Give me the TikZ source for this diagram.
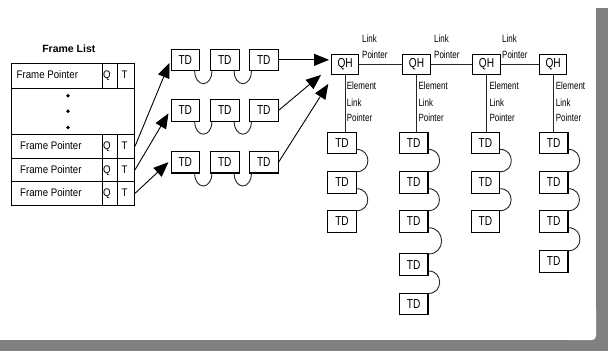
\documentclass[tikz,border=0pt]{standalone}
\usepackage{fontspec}
\setmainfont{Liberation Sans}
\newfontfamily\fpfont[FakeStretch=0.88]{Liberation Sans}
\newfontfamily\tdfont[FakeStretch=0.78]{Liberation Sans}
\newfontfamily\smfont[FakeStretch=0.76]{Liberation Sans}
\usetikzlibrary{arrows.meta}
\definecolor{framegray}{RGB}{128,128,128}
\begin{document}
\begin{tikzpicture}[x=1pt,y=1pt,
  cell/.style={draw=black, line width=1.1pt, inner sep=0pt, anchor=north west},
  tdbox/.style={draw=black, line width=1.1pt, inner sep=0pt, minimum width=28.4pt,
    minimum height=21.6pt, anchor=north west, font=\tdfont\fontsize{13}{13}\selectfont},
  qhbox/.style={tdbox, minimum width=27.3pt, minimum height=20pt},
  fptext/.style={font=\fpfont\fontsize{11}{11}\selectfont, inner sep=0pt, text height=7.9pt, text depth=0pt},
  sm/.style={font=\smfont\fontsize{10.5}{10.5}\selectfont, inner sep=0pt, anchor=west},
  arr/.style={line width=0.9pt, -{Triangle[length=15pt,width=12pt]}},
  link/.style={line width=0.9pt, draw=black!85},
  loopc/.style={line width=0.9pt, draw=black!85},
]
% background and frame
\fill[white] (0,0) rectangle (608,-351);
\useasboundingbox (0,0) rectangle (608,-351);
\fill[framegray] (596,-7.5) rectangle (608,-351);
\fill[framegray] (0,-340) rectangle (608,-351);
\fill[framegray] (589,-333) rectangle (596.5,-340.5);
\fill[white, rounded corners=4pt] (565,-305) rectangle (596,-340);

% ---------- Frame list ----------
\node[font=\bfseries\fontsize{10.5}{10.5}\selectfont, inner sep=0pt] (title) at (68.8,-49) {Frame List};

\node[cell, minimum width=90.7pt, minimum height=25pt] (fp1) at (11,-62.5) {};
\node[cell, minimum width=15.6pt, minimum height=25pt] (q1) at (101.7,-62.5) {};
\node[cell, minimum width=16.6pt, minimum height=25pt] (t1) at (117.3,-62.5) {};
\node[cell, minimum width=123pt, minimum height=46.5pt] (dots) at (11,-87.5) {};
\foreach \i/\top in {3/134,4/157.5,5/181}{
  \node[cell, minimum width=90.7pt, minimum height=23.5pt] (fp\i) at (11,-\top) {};
  \node[cell, minimum width=15.6pt, minimum height=23.5pt] (q\i) at (101.7,-\top) {};
  \node[cell, minimum width=16.6pt, minimum height=23.5pt] (t\i) at (117.3,-\top) {};
}
\node[fptext, anchor=west] (fpl1) at (16.5,-75) {Frame Pointer};
\node[fptext] (ql1) at (107,-75) {Q};
\node[fptext] (tl1) at (124.5,-75) {T};
\foreach \i/\yc in {3/145.75,4/169.25,5/192.75}{
  \node[fptext, anchor=west] (fpl\i) at (20,-\yc) {Frame Pointer};
  \node[fptext] (ql\i) at (107,-\yc) {Q};
  \node[fptext] (tl\i) at (124.5,-\yc) {T};
}
\fill (68,-95.7) circle (1.9);
\fill (68,-111.3) circle (1.9);
\fill (68,-127.5) circle (1.9);

% ---------- Horizontal TD chains ----------
\foreach \r/\top in {1/48.5,2/99,3/150.8}{
  \node[tdbox, minimum width=28.5pt] (a\r1) at (170.5,-\top) {TD};
  \node[tdbox, minimum width=28.5pt] (a\r2) at (210,-\top) {TD};
  \node[tdbox, minimum width=28.5pt] (a\r3) at (249,-\top) {TD};
  \draw[loopc] ([xshift=-5.5pt]a\r1.south east) arc[start angle=180, end angle=360, x radius=8.7, y radius=12.5];
  \draw[loopc] ([xshift=-5.5pt]a\r2.south east) arc[start angle=180, end angle=360, x radius=8.7, y radius=12.5];
}

% arrows from frame list
\draw[arr] (t3.east) -- ([xshift=-1pt,yshift=-3pt]a11.west);
\draw[arr] (t4.east) -- ([xshift=-2pt,yshift=-3pt]a21.west);
\draw[arr] (t5.east) -- ([xshift=-2pt]a31.west);

% ---------- QH row ----------
\node[qhbox] (qh1) at (331,-53.8) {QH};
\node[qhbox] (qh2) at (402.3,-53.8) {QH};
\node[qhbox] (qh3) at (472.3,-53.8) {QH};
\node[qhbox] (qh4) at (539,-53.8) {QH};
\draw[link] (qh1.east) -- (qh2.west);
\draw[link] (qh2.east) -- (qh3.west);
\draw[link] (qh3.east) -- (qh4.west);

% arrows into first QH
\coordinate (tip1) at ([xshift=-2pt]a13.east -| qh1.west);
\coordinate (tip2) at ([xshift=-10pt]qh1.south west);
\coordinate (tip3) at ([xshift=-2.7pt,yshift=-9pt]qh1.south west);
\draw[arr] (a13.east) -- (tip1);
\draw[arr] (a23.east) -- (tip2);
\draw[arr] (a33.east) -- (tip3);

% Link Pointer labels
\foreach \x in {362,434,502}{
  \node[sm] at (\x,-38.3) {Link};
  \node[sm] at (\x,-54.3) {Pointer};
}
% Element Link Pointer labels
\foreach \x in {346.7,418.3,489.3,555.7}{
  \node[sm] at (\x,-86) {Element};
  \node[sm] at (\x,-102.3) {Link};
  \node[sm] at (\x,-118) {Pointer};
}

% ---------- Vertical TD columns ----------
\node[tdbox] (c11) at (327.3,-131.7) {TD};
\node[tdbox] (c12) at (327.3,-171) {TD};
\node[tdbox] (c13) at (327.3,-210) {TD};

\node[tdbox] (c21) at (399,-131.7) {TD};
\node[tdbox] (c22) at (399,-171) {TD};
\node[tdbox] (c23) at (399,-210) {TD};
\node[tdbox] (c24) at (399,-253.3) {TD};
\node[tdbox] (c25) at (399,-292.7) {TD};

\node[tdbox] (c31) at (470.7,-131.7) {TD};
\node[tdbox] (c32) at (470.7,-171) {TD};
\node[tdbox] (c33) at (470.7,-210) {TD};

\node[tdbox] (c41) at (539,-131.7) {TD};
\node[tdbox] (c42) at (539,-171) {TD};
\node[tdbox] (c43) at (539,-210) {TD};
\node[tdbox] (c44) at (539,-250) {TD};

\foreach \c in {1,2,3,4}{
  \draw[link] (qh\c.south) -- (qh\c.south |- c\c1.north);
}
\foreach \a/\b in {c11/c12,c12/c13,c21/c22,c22/c23,c23/c24,c24/c25,c31/c32,c32/c33,c41/c42,c42/c43,c43/c44}{
  \draw[loopc] ([yshift=5pt]\a.south east) to[out=0,in=0,looseness=1.7] ([yshift=-0.7pt]\b.north east);
}
\end{tikzpicture}
\end{document}
